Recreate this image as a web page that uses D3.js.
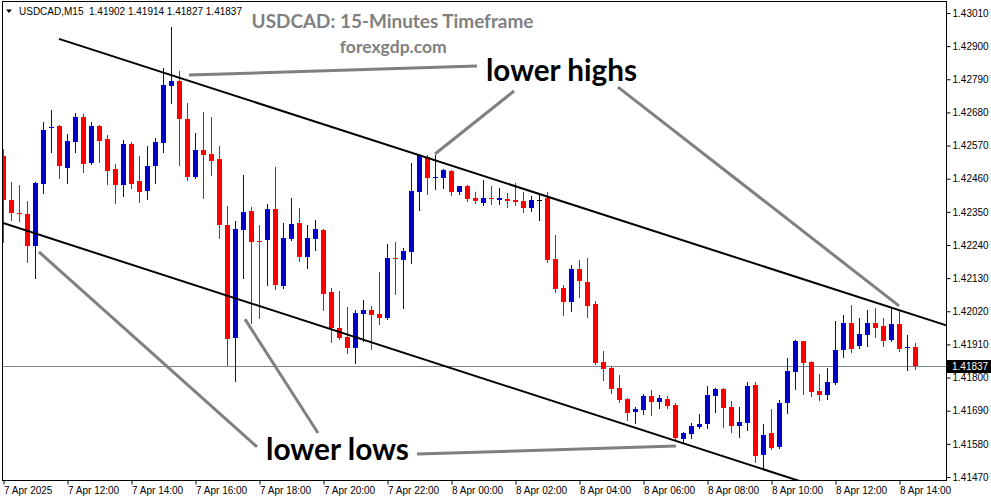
<!DOCTYPE html>
<html><head><meta charset="utf-8">
<script src="https://cdn.jsdelivr.net/npm/d3@7"></script>
<style>body{margin:0;background:#fff}svg{display:block}</style>
</head><body>
<svg id="c" width="991" height="501"></svg>
<script>
const symbolLabel = "USDCAD,M15";
const chartTitle = "USDCAD: 15-Minutes Timeframe";
const siteLabel = "forexgdp.com";

const opens = [1.42535,1.42389,1.42346,1.42343,1.42237,1.42442,1.42628,1.42635,1.42496,1.42582,
1.42665,1.42512,1.42635,1.42592,1.42492,1.42439,1.42575,1.42452,1.42419,1.42502,
1.42579,1.42768,1.42784,1.42658,1.42466,1.42555,1.42542,1.42525,1.42306,1.41931,
1.42290,1.42353,1.42253,1.42257,1.42359,1.42104,1.42260,1.42313,1.42200,1.42260,
1.42290,1.42084,1.41965,1.41935,1.41898,1.42011,1.42024,1.42011,1.41998,1.42197,
1.42190,1.42217,1.42416,1.42532,1.42462,1.42462,1.42486,1.42416,1.42436,1.42396,
1.42379,1.42395,1.42389,1.42393,1.42389,1.42386,1.42363,1.42389,1.42396,1.42194,
1.42097,1.42051,1.42160,1.42117,1.42044,1.41852,1.41832,1.41765,1.41729,1.41686,
1.41692,1.41739,1.41719,1.41729,1.41709,1.41596,1.41613,1.41636,1.41646,1.41739,
1.41762,1.41702,1.41639,1.41649,1.41775,1.41543,1.41616,1.41570,1.41716,1.41818,
1.41921,1.41852,1.41755,1.41742,1.41782,1.41891,1.41981,1.41905,1.41941,1.41981,
1.41971,1.41925,1.41978,1.41898,1.41902];

const highs = [1.42559,1.42449,1.42439,1.42386,1.42448,1.42648,1.42688,1.42637,1.42608,1.42678,
1.42675,1.42648,1.42637,1.42605,1.42509,1.42588,1.42582,1.42535,1.42569,1.42595,
1.42827,1.42964,1.42818,1.42711,1.42612,1.42681,1.42665,1.42569,1.42369,1.42320,
1.42472,1.42366,1.42306,1.42376,1.42499,1.42313,1.42396,1.42363,1.42306,1.42323,
1.42292,1.42097,1.42087,1.42034,1.42024,1.42057,1.42038,1.42150,1.42243,1.42250,
1.42230,1.42512,1.42542,1.42539,1.42539,1.42492,1.42488,1.42437,1.42438,1.42416,
1.42456,1.42436,1.42429,1.42413,1.42446,1.42416,1.42403,1.42409,1.42416,1.42273,
1.42107,1.42174,1.42190,1.42197,1.42054,1.41888,1.41834,1.41809,1.41732,1.41702,
1.41745,1.41759,1.41742,1.41739,1.41716,1.41618,1.41649,1.41679,1.41772,1.41765,
1.41764,1.41722,1.41702,1.41785,1.41785,1.41646,1.41696,1.41726,1.41865,1.41925,
1.41923,1.41855,1.41812,1.41832,1.41988,1.42008,1.42041,1.41998,1.42024,1.42031,
1.41998,1.42031,1.42024,1.41941,1.41914];

const lows = [1.42250,1.42323,1.42320,1.42184,1.42130,1.42413,1.42549,1.42462,1.42446,1.42549,
1.42482,1.42509,1.42515,1.42442,1.42379,1.42403,1.42429,1.42383,1.42393,1.42446,
1.42549,1.42711,1.42506,1.42456,1.42464,1.42396,1.42472,1.42263,1.41842,1.41789,
1.42130,1.41981,1.41998,1.42107,1.42094,1.42098,1.42258,1.42187,1.42164,1.42223,
1.42024,1.41918,1.41929,1.41882,1.41848,1.41921,1.41895,1.41978,1.41996,1.42077,
1.42031,1.42180,1.42356,1.42409,1.42426,1.42429,1.42406,1.42409,1.42386,1.42379,
1.42373,1.42376,1.42376,1.42366,1.42373,1.42350,1.42353,1.42323,1.42184,1.42084,
1.42008,1.42021,1.42067,1.42001,1.41845,1.41792,1.41749,1.41719,1.41659,1.41649,
1.41679,1.41676,1.41699,1.41699,1.41596,1.41583,1.41599,1.41634,1.41633,1.41686,
1.41636,1.41619,1.41603,1.41626,1.41520,1.41500,1.41564,1.41566,1.41682,1.41762,
1.41745,1.41739,1.41726,1.41729,1.41780,1.41868,1.41885,1.41898,1.41905,1.41935,
1.41905,1.41923,1.41888,1.41825,1.41827];

const closes = [1.42389,1.42346,1.42343,1.42237,1.42446,1.42622,1.42632,1.42502,1.42585,1.42665,
1.42509,1.42635,1.42585,1.42486,1.42439,1.42575,1.42442,1.42416,1.42502,1.42582,
1.42771,1.42784,1.42658,1.42466,1.42555,1.42539,1.42519,1.42306,1.41928,1.42293,
1.42350,1.42250,1.42250,1.42359,1.42107,1.42263,1.42310,1.42200,1.42263,1.42293,
1.42077,1.41965,1.41931,1.41898,1.42014,1.42024,1.42008,1.41998,1.42197,1.42194,
1.42220,1.42419,1.42539,1.42462,1.42466,1.42489,1.42416,1.42436,1.42393,1.42386,
1.42396,1.42393,1.42396,1.42386,1.42383,1.42363,1.42389,1.42389,1.42190,1.42094,
1.42051,1.42160,1.42121,1.42038,1.41848,1.41828,1.41762,1.41726,1.41682,1.41696,
1.41739,1.41719,1.41732,1.41706,1.41599,1.41616,1.41639,1.41646,1.41742,1.41762,
1.41699,1.41639,1.41653,1.41772,1.41540,1.41609,1.41566,1.41716,1.41822,1.41921,
1.41848,1.41752,1.41742,1.41785,1.41891,1.41981,1.41895,1.41945,1.41981,1.41965,
1.41921,1.41978,1.41895,1.41901,1.41837];

const priceTicks = [1.43010,1.42900,1.42790,1.42680,1.42570,1.42460,1.42350,1.42240,
1.42130,1.42020,1.41910,1.41800,1.41690,1.41580,1.41470];
const timeTickIndex = [0,8,16,24,32,40,48,56,64,72,80,88,96,104,112];
const timeTickLabels = ["7 Apr 2025","7 Apr 12:00","7 Apr 14:00","7 Apr 16:00","7 Apr 18:00",
"7 Apr 20:00","7 Apr 22:00","8 Apr 00:00","8 Apr 02:00","8 Apr 04:00","8 Apr 06:00",
"8 Apr 08:00","8 Apr 10:00","8 Apr 12:00","8 Apr 14:00"];
const lastPrice = 1.41837;

// trend channel anchors [bar index, price]
const channelUpper = [[7, 1.42924], [117, 1.41981]];
const channelLower = [[0, 1.42313], [95, 1.41496]];
// annotation pointer lines [bar index, price]
const pointers = [
  [[23.25, 1.42804], [59.25, 1.42834]],
  [[54, 1.42542], [63.875, 1.42751]],
  [[76.875, 1.42764], [112, 1.42038]],
  [[51.75, 1.41546], [84.125, 1.41573]],
  [[4.5, 1.42217], [31.75, 1.41570]],
  [[30.25, 1.41994], [39.375, 1.41616]]
];
const notes = [
  {text: "lower highs", at: [60.375, 1.42784], width: 151},
  {text: "lower lows", at: [32.875, 1.41526], width: 143}
];

const svg = d3.select("#c");
const L = 3, R = 946, T = 2, B = 480;
const x = d3.scaleLinear().domain([0, 117.875]).range([3, 946]);
const y = d3.scaleLinear().domain([1.41470, 1.43010]).range([477, 13]);

svg.append("rect").attr("width", 991).attr("height", 501).attr("fill", "#fff");
svg.append("defs").append("clipPath").attr("id", "plot")
  .append("rect").attr("x", L).attr("y", T).attr("width", R - L).attr("height", B - T);

const g = svg.append("g").attr("clip-path", "url(#plot)");

// current price line
g.append("line").attr("x1", L).attr("x2", R)
  .attr("y1", Math.round(y(lastPrice)) + 0.5).attr("y2", Math.round(y(lastPrice)) + 0.5)
  .attr("stroke", "#778899").attr("stroke-width", 1);

const bars = d3.range(opens.length).map(i => ({i, o: opens[i], h: highs[i], l: lows[i], c: closes[i]}));
const col = d => d.c > d.o ? "#0000cd" : (d.c < d.o ? "#ff0000" : "#000000");

const cg = g.append("g");
cg.selectAll("rect.wick").data(bars).join("rect").attr("class", "wick")
  .attr("x", d => Math.round(x(d.i)))
  .attr("y", d => Math.round(y(d.h)))
  .attr("width", 1)
  .attr("height", d => Math.max(1, Math.round(y(d.l)) - Math.round(y(d.h)) + 1))
  .attr("fill", col);
cg.selectAll("rect.body").data(bars).join("rect").attr("class", "body")
  .attr("x", d => Math.round(x(d.i)) - 2)
  .attr("y", d => Math.round(y(Math.max(d.o, d.c))))
  .attr("width", 5)
  .attr("height", d => Math.max(1, Math.round(y(Math.min(d.o, d.c))) - Math.round(y(Math.max(d.o, d.c)))))
  .attr("fill", col);

// channel rays
function ray(a, ext) {
  const [p, q] = a;
  const slope = (q[1] - p[1]) / (q[0] - p[0]);
  const far = 140;
  return [[x(p[0]), y(p[1])], [x(far), y(p[1] + slope * (far - p[0]))]];
}
const lineGen = d3.line();
g.append("path").attr("d", lineGen(ray(channelUpper))).attr("stroke", "#000").attr("stroke-width", 2).attr("fill", "none");
g.append("path").attr("d", lineGen(ray(channelLower))).attr("stroke", "#000").attr("stroke-width", 2).attr("fill", "none");

// pointer lines
g.selectAll("path.ptr").data(pointers).join("path").attr("class", "ptr")
  .attr("d", d => lineGen(d.map(p => [x(p[0]), y(p[1])])))
  .attr("stroke", "#808080").attr("stroke-width", 3).attr("fill", "none");

// notes
notes.forEach(n => {
  const t = g.append("text").attr("x", x(n.at[0])).attr("y", y(n.at[1]))
    .attr("font-family", "Lato, sans-serif").attr("font-weight", 700)
    .attr("font-size", 27).attr("fill", "#000").text(n.text);
  const w = t.node().getComputedTextLength();
  t.attr("font-size", 27 * n.width / w);
});

// title texts
function fitText(txt, cx, base, target, size, color) {
  const t = svg.append("text").attr("x", cx).attr("y", base).attr("text-anchor", "middle")
    .attr("font-family", "Lato, sans-serif").attr("font-weight", 700)
    .attr("font-size", size).attr("fill", color).text(txt);
  const w = t.node().getComputedTextLength();
  t.attr("font-size", size * target / w);
}
fitText(chartTitle, 392.5, 27.5, 282, 20, "#808080");
fitText(siteLabel, 393.3, 52.5, 107, 17, "#808080");

// header
svg.append("path").attr("d", "M6,9.5 L12,9.5 L9,13 Z").attr("fill", "#000");
svg.append("text").attr("x", 19).attr("y", 14.5)
  .attr("font-family", "Liberation Sans, Arial, sans-serif").attr("font-size", 10).attr("fill", "#000")
  .attr("xml:space", "preserve")
  .text(symbolLabel + "  " + [opens[opens.length-1], highs[highs.length-1], lows[lows.length-1], closes[closes.length-1]].map(v => v.toFixed(5)).join(" "));

// frame
svg.append("rect").attr("x", 2.5).attr("y", 1.5).attr("width", R - 2).attr("height", B - 1)
  .attr("fill", "none").attr("stroke", "#000").attr("stroke-width", 1);

// axes
const yAxis = d3.axisRight(y).tickValues(priceTicks).tickSize(4).tickPadding(2).tickFormat(d3.format(".5f"));
const ya = svg.append("g").attr("transform", `translate(${R + 0.5},0)`).call(yAxis);
ya.select(".domain").remove();
ya.selectAll("text").attr("font-family", "Liberation Sans, Arial, sans-serif").attr("font-size", 10).attr("fill", "#000");
ya.selectAll("line").attr("stroke", "#000");

const xAxis = d3.axisBottom(x).tickValues(timeTickIndex).tickSize(4).tickFormat((d, i) => timeTickLabels[i]);
const xa = svg.append("g").attr("transform", `translate(0.5,${B + 0.5})`).call(xAxis);
xa.select(".domain").remove();
xa.selectAll("text").attr("font-family", "Liberation Sans, Arial, sans-serif").attr("font-size", 10)
  .attr("fill", "#000").attr("text-anchor", "start").attr("dx", 0).attr("y", 6);
xa.selectAll("line").attr("stroke", "#000");

// last price tag
const ly = y(lastPrice);
svg.append("rect").attr("x", R + 1).attr("y", Math.round(ly) - 6).attr("width", 991 - R - 1).attr("height", 13).attr("fill", "#000");
svg.append("text").attr("x", R + 6).attr("y", ly).attr("dy", "0.34em")
  .attr("font-family", "Liberation Sans, Arial, sans-serif").attr("font-size", 10).attr("fill", "#fff")
  .text(lastPrice.toFixed(5));
</script>
</body></html>
